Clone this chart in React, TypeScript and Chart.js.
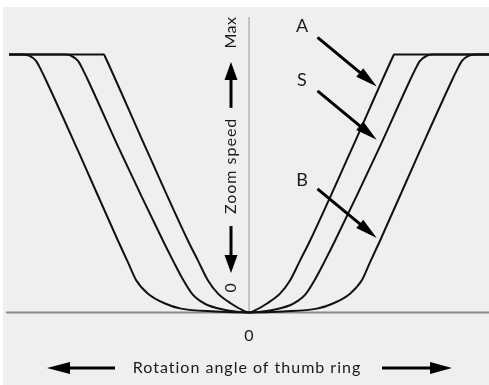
import React, { useEffect, useRef } from "react";
import { Chart, registerables } from "chart.js";

Chart.register(...registerables);

// Right half of each curve (rotation angle -> zoom speed, % of max); the chart is mirror-symmetric.
const angleA = [0, 6, 18, 31, 41, 51, 61, 102, 144, 145, 240];
const speedA = [0, 0.8, 3.5, 7.3, 12.4, 20.1, 27.8, 62.7, 99.2, 100, 100];

const angleS = [0, 21, 41, 48, 56, 66, 76, 86, 129, 161, 166, 171, 178, 184, 240];
const speedS = [0, 0.8, 2.8, 4.3, 6.8, 12.8, 20.1, 27.8, 62.7, 90, 94, 97.5, 99.5, 100, 100];

const angleB = [0, 34, 68, 84, 101, 113, 121, 131, 171, 203, 208, 213, 220, 228, 240];
const speedB = [0, 0.4, 1.5, 3.5, 7.3, 12.6, 19.4, 27.8, 62.7, 90, 94, 97.5, 99.5, 100, 100];

const curveLabels = ["A", "S", "B"];
const xAxisTitle = "Rotation angle of thumb ring";
const yAxisTitle = "Zoom speed";
const yMaxLabel = "Max";
const zeroLabel = "0";

const X_MIN = -243;
const X_MAX = 240;
const Y_TOP = 114.5;

function mirrored(angles: number[], speeds: number[]) {
  const pts: { x: number; y: number }[] = [];
  for (let i = angles.length - 1; i > 0; i--) pts.push({ x: -angles[i], y: speeds[i] });
  for (let i = 0; i < angles.length; i++) pts.push({ x: angles[i], y: speeds[i] });
  return pts;
}

function arrow(
  ctx: CanvasRenderingContext2D,
  x1: number, y1: number, x2: number, y2: number,
  shaft: number, headLen: number, headW: number
) {
  const dx = x2 - x1, dy = y2 - y1;
  const len = Math.hypot(dx, dy);
  const ux = dx / len, uy = dy / len;
  const bx = x2 - ux * headLen, by = y2 - uy * headLen;
  ctx.save();
  ctx.strokeStyle = "#000";
  ctx.fillStyle = "#000";
  ctx.lineWidth = shaft;
  ctx.lineCap = "butt";
  ctx.beginPath();
  ctx.moveTo(x1, y1);
  ctx.lineTo(bx + ux * 2, by + uy * 2);
  ctx.stroke();
  ctx.beginPath();
  ctx.moveTo(x2, y2);
  ctx.lineTo(bx - uy * headW / 2, by + ux * headW / 2);
  ctx.lineTo(bx + uy * headW / 2, by - ux * headW / 2);
  ctx.closePath();
  ctx.fill();
  ctx.restore();
}

const annotationPlugin = {
  id: "annotations",
  afterDatasetsDraw(chart: any) {
    const ctx: any = chart.ctx;
    const xs = chart.scales.x;
    const ys = chart.scales.y;
    const X = (v: number) => xs.getPixelForValue(v);
    const Y = (v: number) => ys.getPixelForValue(v);
    const font = "Lato, 'Open Sans', sans-serif";
    ctx.save();
    ctx.fillStyle = "#1a1a1a";
    ctx.textAlign = "center";
    ctx.textBaseline = "middle";

    // Curve labels and pointers
    ctx.font = `18px ${font}`;
    const labelY = [111, 89.9, 51.4];
    const arrowFrom = [106.6, 85.9, 47.9];
    const arrowTo = [87.6, 66.9, 28.9];
    curveLabels.forEach((lab, i) => {
      ctx.fillText(lab, X(53), Y(labelY[i]));
      arrow(ctx, X(68.5), Y(arrowFrom[i]), X(127.7), Y(arrowTo[i]), 3, 22, 11);
    });

    // zero under baseline
    ctx.font = `16px ${font}`;
    ctx.fillText(zeroLabel, X(0), Y(-9.1));

    // x-axis title with arrows
    ctx.letterSpacing = "1px";
    ctx.fillText(xAxisTitle, X(-2), Y(-21.5));
    arrow(ctx, X(-134), Y(-21.5), X(-202), Y(-21.5), 3, 23, 12);
    arrow(ctx, X(133), Y(-21.5), X(203), Y(-21.5), 3, 22, 12);

    // vertical y-axis title
    const vx = X(-18);
    const vtext = (t: string, yv: number) => {
      ctx.save();
      ctx.translate(vx, Y(yv));
      ctx.rotate(-Math.PI / 2);
      ctx.fillText(t, 0, 0);
      ctx.restore();
    };
    vtext(yAxisTitle, 56.8);
    ctx.letterSpacing = "0.5px";
    vtext(yMaxLabel, 108.5);
    ctx.letterSpacing = "0px";
    vtext(zeroLabel, 9.5);
    arrow(ctx, vx, Y(79.3), vx, Y(97.1), 3, 18, 13);
    arrow(ctx, vx, Y(33.5), vx, Y(15.3), 3, 18, 13);
    ctx.restore();
  },
};

export default function App() {
  const ref = useRef<HTMLCanvasElement | null>(null);
  useEffect(() => {
    if (!ref.current) return;
    const curveStyle = {
      borderColor: "#111",
      borderWidth: 2,
      pointRadius: 0,
      cubicInterpolationMode: "monotone" as const,
      fill: false,
      clip: false as any,
    };
    const chart = new Chart(ref.current, {
      type: "line",
      data: {
        datasets: [
          { label: curveLabels[0], data: mirrored(angleA, speedA), ...curveStyle },
          { label: curveLabels[1], data: mirrored(angleS, speedS), ...curveStyle },
          { label: curveLabels[2], data: mirrored(angleB, speedB), ...curveStyle },
          {
            label: "vaxis",
            data: [{ x: 0, y: 0 }, { x: 0, y: Y_TOP }],
            borderColor: "#b4b4b4",
            borderWidth: 1.5,
            pointRadius: 0,
            tension: 0,
            clip: false as any,
          },
          {
            label: "haxis",
            data: [{ x: X_MIN, y: 0 }, { x: X_MAX, y: 0 }],
            borderColor: "#8a8a8a",
            borderWidth: 2,
            pointRadius: 0,
            tension: 0,
            clip: false as any,
          },
        ],
      },
      options: {
        animation: false,
        responsive: false,
        maintainAspectRatio: false,
        events: [],
        layout: { padding: { left: 3, right: 0, top: 10, bottom: 72.5 } },
        scales: {
          x: { type: "linear", min: X_MIN, max: X_MAX, display: false },
          y: { type: "linear", min: 0, max: Y_TOP, display: false },
        },
        plugins: { legend: { display: false }, tooltip: { enabled: false } },
      },
      plugins: [annotationPlugin],
    });
    return () => chart.destroy();
  }, []);
  return (
    <div
      style={{
        position: "fixed",
        left: 3,
        top: 7,
        width: 486,
        height: 378,
        background: "#efefef",
      }}
    >
      <canvas ref={ref} width={486} height={378} style={{ display: "block" }} />
    </div>
  );
}
